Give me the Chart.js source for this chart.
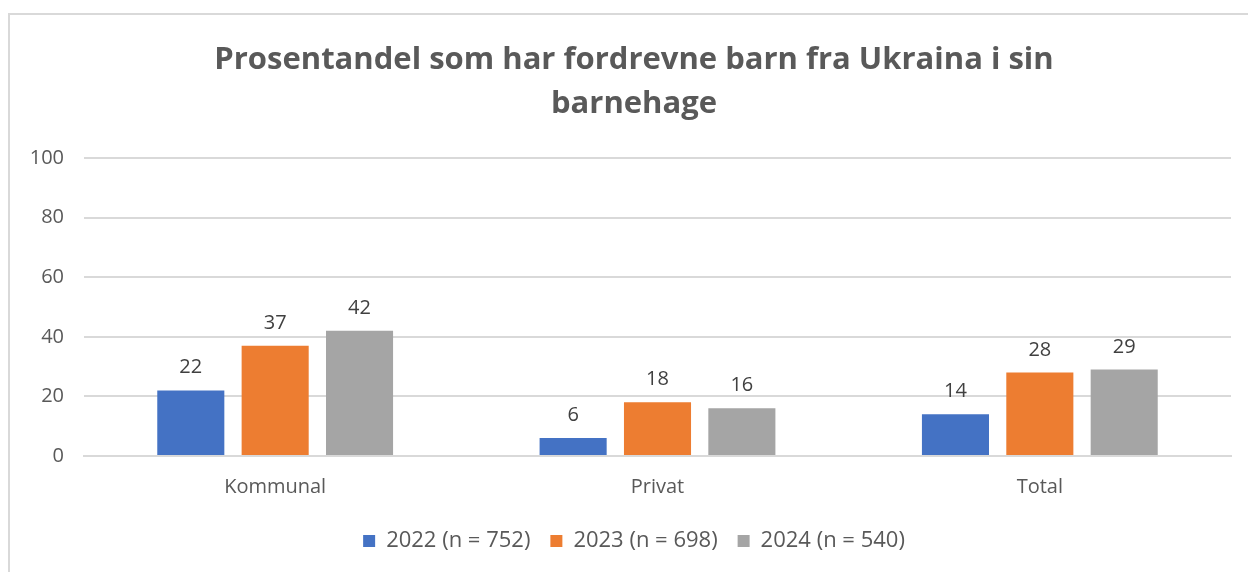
<!DOCTYPE html>
<html>
<head>
  <meta charset="UTF-8">
  <title>Fordrevne barn fra Ukraina</title>
  <script src="https://cdn.jsdelivr.net/npm/chart.js"></script>
  <style>
    body {
      margin: 0;
      background: white;
      overflow: hidden;
    }
    .frame {
      position: absolute;
      left: 8px;
      top: 13px;
      width: 1300px;
      height: 620px;
      border: 2px solid #d9d9d9;
    }
    canvas {
      position: absolute;
      left: 0;
      top: 0;
    }
  </style>
</head>
<body>

  <div class="frame"></div>
  <canvas id="chart" width="1248" height="572"></canvas>

  <script>
    const categories = ["Kommunal", "Privat", "Total"];
    const seriesNames = ["2022 (n = 752)", "2023 (n = 698)", "2024 (n = 540)"];
    const values2022 = [22, 6, 14];
    const values2023 = [37, 18, 28];
    const values2024 = [42, 16, 29];
    const yTicks = [0, 20, 40, 60, 80, 100];

    const colors = ["#4472C4", "#ED7D31", "#A5A5A5"];
    const fontFamily = "'Open Sans', 'Liberation Sans', sans-serif";

    // value labels above each bar
    const barLabels = {
      id: "barLabels",
      afterDatasetsDraw(chart) {
        const ctx = chart.ctx;
        ctx.save();
        ctx.font = "20px " + fontFamily;
        ctx.fillStyle = "#404040";
        ctx.textAlign = "center";
        ctx.textBaseline = "alphabetic";
        chart.data.datasets.forEach((ds, i) => {
          const meta = chart.getDatasetMeta(i);
          meta.data.forEach((bar, j) => {
            ctx.fillText(ds.data[j], bar.x, bar.y - 17);
          });
        });
        ctx.restore();
      }
    };

    const allSeries = [values2022, values2023, values2024];

    new Chart(document.getElementById("chart"), {
      type: "bar",
      data: {
        labels: categories,
        datasets: allSeries.map((vals, i) => ({
          label: seriesNames[i],
          data: vals,
          backgroundColor: colors[i],
          categoryPercentage: 0.662,
          barPercentage: 0.795
        }))
      },
      options: {
        responsive: false,
        animation: false,
        layout: {
          // left padding shifts title/legend centre to match the original
          padding: { left: 37, right: 17, top: 0, bottom: 10 }
        },
        plugins: {
          title: {
            display: true,
            text: ["Prosentandel som har fordrevne barn fra Ukraina i sin", "barnehage"],
            color: "#595959",
            font: { family: fontFamily, size: 31, weight: "bold", lineHeight: 1.42 },
            padding: { top: 38, bottom: 32 }
          },
          legend: {
            position: "bottom",
            labels: {
              color: "#595959",
              font: { family: fontFamily, size: 22 },
              boxWidth: 12,
              boxHeight: 12,
              padding: 20
            }
          },
          tooltip: { enabled: false }
        },
        scales: {
          x: {
            grid: { display: false },
            border: { color: "#d9d9d9", width: 2 },
            ticks: {
              color: "#595959",
              font: { family: fontFamily, size: 20 },
              padding: 11
            }
          },
          y: {
            min: 0,
            max: 100,
            afterBuildTicks(scale) {
              scale.ticks = yTicks.map(v => ({ value: v }));
            },
            afterFit(scale) {
              scale.width = 47;
              // labels stick out into the left padding, so don't clip them
              scale._computeLabelArea = () => undefined;
            },
            grid: { color: "#d9d9d9", lineWidth: 2, drawTicks: false },
            border: { display: false },
            ticks: {
              color: "#595959",
              font: { family: fontFamily, size: 20 },
              padding: 20
            }
          }
        }
      },
      plugins: [barLabels]
    });
  </script>

</body>
</html>
